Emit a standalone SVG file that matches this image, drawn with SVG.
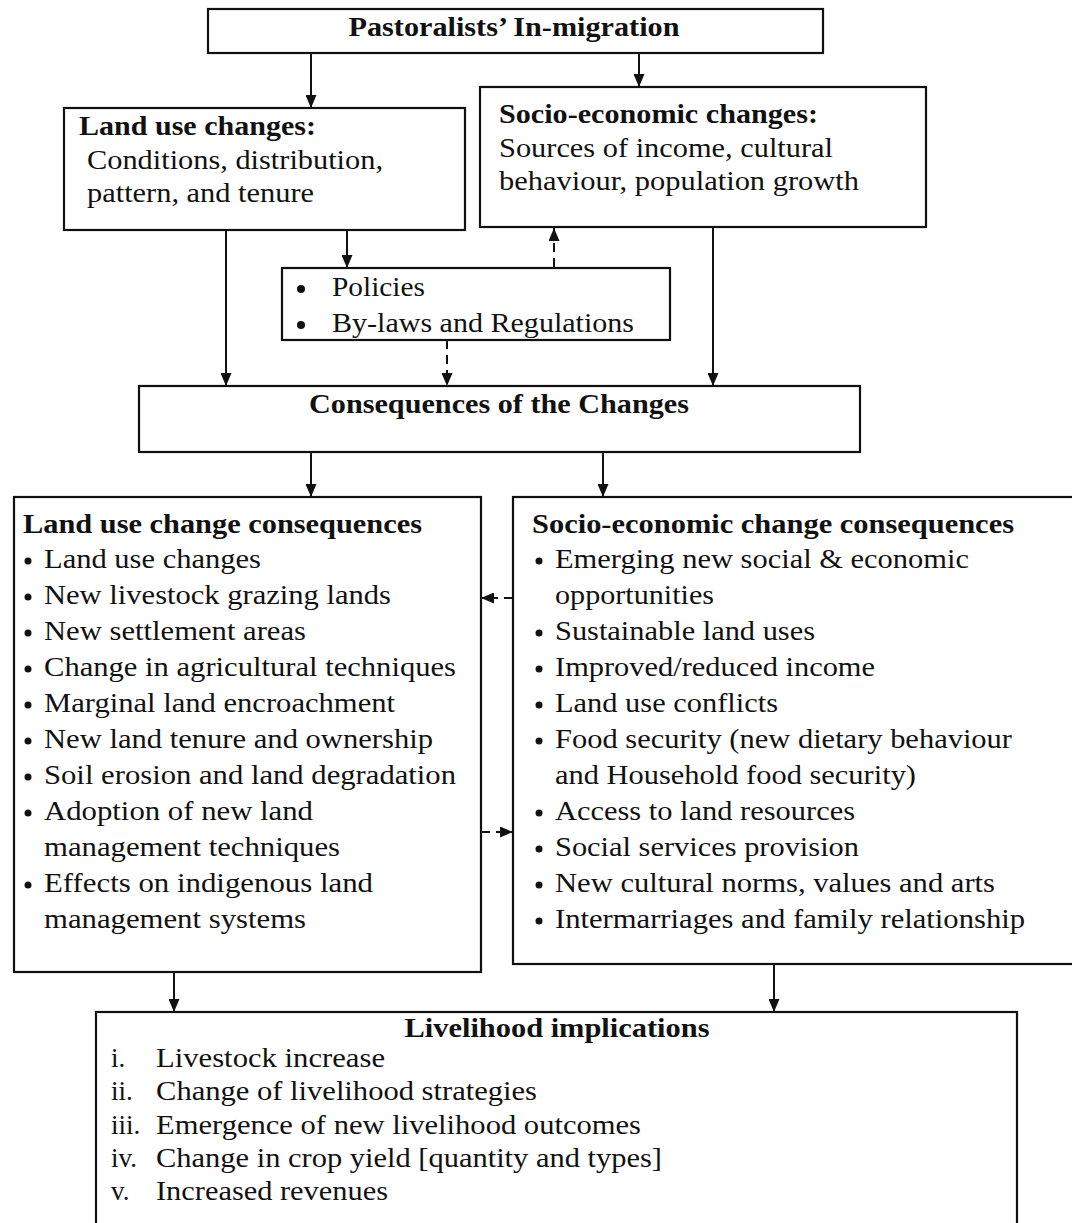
<svg xmlns="http://www.w3.org/2000/svg" width="1072" height="1223" viewBox="0 0 1072 1223">
<defs>
<marker id="ah" markerUnits="userSpaceOnUse" markerWidth="13" markerHeight="11" refX="13" refY="5.5" orient="auto">
<path d="M0,0 L13,5.5 L0,11 z" fill="#111"/>
</marker>
<style>
.box{fill:#fff;stroke:#111;stroke-width:2.2}
.t{font-family:"Liberation Serif","Times New Roman",serif;font-size:27px;fill:#111}
.b{font-weight:bold}
.c{text-anchor:middle}
.ln{stroke:#111;stroke-width:2;fill:none;marker-end:url(#ah)}
.ds{stroke-dasharray:9 6}
</style>
</defs>
<rect width="1072" height="1223" fill="#fff"/>

<g id="connectors">
<line class="ln" x1="311" y1="53" x2="311" y2="108"/>
<line class="ln" x1="639" y1="53" x2="639" y2="87"/>
<line class="ln" x1="226" y1="230" x2="226" y2="386"/>
<line class="ln" x1="347" y1="230" x2="347" y2="268"/>
<line class="ln ds" x1="554" y1="267" x2="554" y2="228"/>
<line class="ln ds" x1="447" y1="340" x2="447" y2="386"/>
<line class="ln" x1="713" y1="227" x2="713" y2="386"/>
<line class="ln" x1="311" y1="452" x2="311" y2="497"/>
<line class="ln" x1="603" y1="452" x2="603" y2="497"/>
<line class="ln ds" x1="513" y1="598" x2="481" y2="598"/>
<line class="ln ds" x1="481" y1="832" x2="513" y2="832"/>
<line class="ln" x1="174" y1="972" x2="174" y2="1012"/>
<line class="ln" x1="774" y1="964" x2="774" y2="1012"/>
</g>

<g id="migration">
<rect class="box" x="208" y="9" width="615" height="44"/>
<text class="t b c" x="514" y="36" textLength="331" lengthAdjust="spacingAndGlyphs">Pastoralists’ In-migration</text>
</g>

<g id="landuse">
<rect class="box" x="64" y="108" width="401" height="122"/>
<text class="t b" x="79" y="135" textLength="237" lengthAdjust="spacingAndGlyphs">Land use changes:</text>
<text class="t" x="87" y="169" textLength="296" lengthAdjust="spacingAndGlyphs">Conditions, distribution,</text>
<text class="t" x="87" y="202" textLength="227" lengthAdjust="spacingAndGlyphs">pattern, and tenure</text>
</g>

<g id="socio">
<rect class="box" x="480" y="87" width="446" height="140"/>
<text class="t b" x="499" y="123" textLength="319" lengthAdjust="spacingAndGlyphs">Socio-economic changes:</text>
<text class="t" x="499" y="157" textLength="334" lengthAdjust="spacingAndGlyphs">Sources of income, cultural</text>
<text class="t" x="499" y="190" textLength="360" lengthAdjust="spacingAndGlyphs">behaviour, population growth</text>
</g>

<g id="policies">
<rect class="box" x="282" y="268" width="388" height="72"/>
<circle cx="301" cy="289" r="4" fill="#111"/>
<circle cx="301" cy="325" r="4" fill="#111"/>
<text class="t" x="332" y="296" textLength="93" lengthAdjust="spacingAndGlyphs">Policies</text>
<text class="t" x="332" y="332" textLength="302" lengthAdjust="spacingAndGlyphs">By-laws and Regulations</text>
</g>

<g id="consequences">
<rect class="box" x="139" y="386" width="721" height="66"/>
<text class="t b c" x="499" y="413" textLength="380" lengthAdjust="spacingAndGlyphs">Consequences of the Changes</text>
</g>

<g id="landuse-consequences">
<rect class="box" x="14" y="497" width="467" height="475"/>
<text class="t b" x="23" y="533" textLength="399" lengthAdjust="spacingAndGlyphs">Land use change consequences</text>
<g fill="#111">
<circle cx="28" cy="561" r="3.5"/><circle cx="28" cy="597" r="3.5"/><circle cx="28" cy="633" r="3.5"/>
<circle cx="28" cy="669" r="3.5"/><circle cx="28" cy="705" r="3.5"/><circle cx="28" cy="741" r="3.5"/>
<circle cx="28" cy="777" r="3.5"/><circle cx="28" cy="813" r="3.5"/><circle cx="28" cy="885" r="3.5"/>
</g>
<text class="t" x="44" y="568" textLength="217" lengthAdjust="spacingAndGlyphs">Land use changes</text>
<text class="t" x="44" y="604" textLength="347" lengthAdjust="spacingAndGlyphs">New livestock grazing lands</text>
<text class="t" x="44" y="640" textLength="262" lengthAdjust="spacingAndGlyphs">New settlement areas</text>
<text class="t" x="44" y="676" textLength="412" lengthAdjust="spacingAndGlyphs">Change in agricultural techniques</text>
<text class="t" x="44" y="712" textLength="351" lengthAdjust="spacingAndGlyphs">Marginal land encroachment</text>
<text class="t" x="44" y="748" textLength="389" lengthAdjust="spacingAndGlyphs">New land tenure and ownership</text>
<text class="t" x="44" y="784" textLength="412" lengthAdjust="spacingAndGlyphs">Soil erosion and land degradation</text>
<text class="t" x="44" y="820" textLength="269" lengthAdjust="spacingAndGlyphs">Adoption of new land</text>
<text class="t" x="44" y="856" textLength="296" lengthAdjust="spacingAndGlyphs">management techniques</text>
<text class="t" x="44" y="892" textLength="329" lengthAdjust="spacingAndGlyphs">Effects on indigenous land</text>
<text class="t" x="44" y="928" textLength="262" lengthAdjust="spacingAndGlyphs">management systems</text>
</g>

<g id="socio-consequences">
<rect class="box" x="513" y="497" width="570" height="467"/>
<text class="t b" x="532" y="533" textLength="482" lengthAdjust="spacingAndGlyphs">Socio-economic change consequences</text>
<g fill="#111">
<circle cx="539" cy="561" r="3.5"/><circle cx="539" cy="633" r="3.5"/><circle cx="539" cy="669" r="3.5"/>
<circle cx="539" cy="705" r="3.5"/><circle cx="539" cy="741" r="3.5"/><circle cx="539" cy="813" r="3.5"/>
<circle cx="539" cy="849" r="3.5"/><circle cx="539" cy="885" r="3.5"/><circle cx="539" cy="921" r="3.5"/>
</g>
<text class="t" x="555" y="568" textLength="414" lengthAdjust="spacingAndGlyphs">Emerging new social &amp; economic</text>
<text class="t" x="555" y="604" textLength="159" lengthAdjust="spacingAndGlyphs">opportunities</text>
<text class="t" x="555" y="640" textLength="260" lengthAdjust="spacingAndGlyphs">Sustainable land uses</text>
<text class="t" x="555" y="676" textLength="320" lengthAdjust="spacingAndGlyphs">Improved/reduced income</text>
<text class="t" x="555" y="712" textLength="223" lengthAdjust="spacingAndGlyphs">Land use conflicts</text>
<text class="t" x="555" y="748" textLength="457" lengthAdjust="spacingAndGlyphs">Food security (new dietary behaviour</text>
<text class="t" x="555" y="784" textLength="361" lengthAdjust="spacingAndGlyphs">and Household food security)</text>
<text class="t" x="555" y="820" textLength="300" lengthAdjust="spacingAndGlyphs">Access to land resources</text>
<text class="t" x="555" y="856" textLength="304" lengthAdjust="spacingAndGlyphs">Social services provision</text>
<text class="t" x="555" y="892" textLength="440" lengthAdjust="spacingAndGlyphs">New cultural norms, values and arts</text>
<text class="t" x="555" y="928" textLength="470" lengthAdjust="spacingAndGlyphs">Intermarriages and family relationship</text>
</g>

<g id="livelihood">
<rect class="box" x="96" y="1012" width="921" height="230"/>
<text class="t b c" x="557" y="1037" textLength="305" lengthAdjust="spacingAndGlyphs">Livelihood implications</text>
<text class="t" x="111" y="1067">i.</text>
<text class="t" x="111" y="1100">ii.</text>
<text class="t" x="111" y="1134">iii.</text>
<text class="t" x="111" y="1167">iv.</text>
<text class="t" x="111" y="1200">v.</text>
<text class="t" x="156" y="1067" textLength="229" lengthAdjust="spacingAndGlyphs">Livestock increase</text>
<text class="t" x="156" y="1100" textLength="381" lengthAdjust="spacingAndGlyphs">Change of livelihood strategies</text>
<text class="t" x="156" y="1134" textLength="485" lengthAdjust="spacingAndGlyphs">Emergence of new livelihood outcomes</text>
<text class="t" x="156" y="1167" textLength="506" lengthAdjust="spacingAndGlyphs">Change in crop yield [quantity and types]</text>
<text class="t" x="156" y="1200" textLength="232" lengthAdjust="spacingAndGlyphs">Increased revenues</text>
</g>
</svg>
